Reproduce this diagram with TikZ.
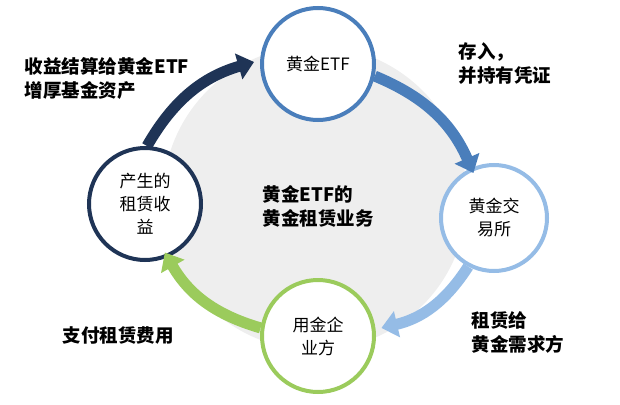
\documentclass[tikz,border=0pt]{standalone}
\usepackage{fontspec}
\setmainfont{Noto Sans CJK SC}
\usetikzlibrary{arrows.meta}
\definecolor{etfblue}{HTML}{4A7EBB}
\definecolor{exblue}{HTML}{95BCE6}
\definecolor{usegreen}{HTML}{9BCB5C}
\definecolor{incnavy}{HTML}{1F3456}

\begin{document}
\begin{tikzpicture}[x=1pt,y=-1pt,
    stage/.style={circle, draw, line width=4pt, fill=white, minimum size=112pt,
      inner sep=0pt, align=center, font=\fontsize{17}{23}\selectfont},
    flow/.style={line width=11pt, -{Triangle[length=16pt,width=26pt]}},
    note/.style={align=left, font=\fontsize{18.5}{24}\selectfont\bfseries}]
    \useasboundingbox (0,0) rectangle (620,404);
    \fill[gray!13] (315,198) circle (152);
    \node[stage,draw=etfblue] (etf) at (318,64) {黄金ETF};
    \node[stage,draw=exblue,minimum size=106pt] (ex) at (494,218) {黄金交\\易所};
    \node[stage,draw=usegreen] (use) at (318,336) {用金企\\业方};
    \node[stage,draw=incnavy] (inc) at (145,204) {产生的\\租赁收\\益};
    \node[note] (core) at (318,206) {黄金ETF的\\黄金租赁业务};
    \draw[flow,draw=etfblue] (etf.-12) to[bend left=22] ([yshift=-6pt]ex.112);
    \draw[flow,draw=exblue] (ex.-118) to[bend left=22] ([xshift=6pt]use.8);
    \draw[flow,draw=usegreen] (use.172) to[bend left=22] ([yshift=6pt]inc.-70);
    \draw[flow,draw=incnavy] (inc.88) to[bend left=22] ([xshift=-6pt]etf.178);
    \node[note] (save) at (505,64) {存入，\\并持有凭证};
    \node[note] (lend) at (518,332) {租赁给\\黄金需求方};
    \node[note] (pay) at (118,336) {支付租赁费用};
    \node[note] (back) at (107,78) {收益结算给黄金ETF\\增厚基金资产};
\end{tikzpicture}
\end{document}
